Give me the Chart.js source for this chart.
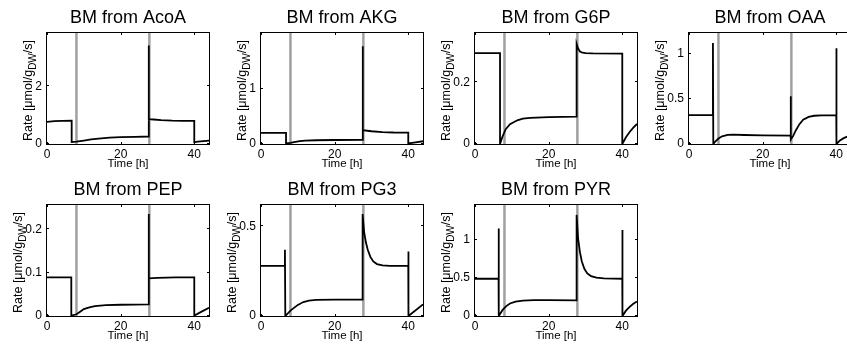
<!DOCTYPE html>
<html>
<head>
<meta charset="utf-8">
<script src="https://cdn.jsdelivr.net/npm/chart.js@4.4.1/dist/chart.umd.min.js"></script>
<style>
  html, body { margin: 0; padding: 0; background: #fff; overflow: hidden; }
  #fig { position: relative; width: 847px; height: 344px; overflow: hidden; }
  #fig canvas { position: absolute; }
</style>
</head>
<body>
<div id="fig"></div>
<script>
// shared time axis
const timeTicks = [0, 20, 40];
const switchTimes = [8, 27.8]; // grey marker lines

// BM from AcoA
const acoaT = [0, 2, 4, 6.7, 6.7, 8, 10, 12, 14, 17, 20, 24, 27.6, 27.6, 27.7, 29, 31, 34, 37, 40, 40, 41, 42.5, 44];
const acoaRate = [0.77, 0.79, 0.8, 0.81, 0.07, 0.08, 0.12, 0.16, 0.19, 0.22, 0.24, 0.25, 0.26, 3.42, 0.86, 0.85, 0.83, 0.81, 0.8, 0.8, 0.06, 0.08, 0.1, 0.12];
const acoaTicks = [0, 2];

// BM from AKG
const akgT = [0, 6.8, 6.8, 8, 9, 10.5, 12, 15, 20, 27.6, 27.6, 27.7, 30, 33, 36, 40, 40, 42, 44];
const akgRate = [0.2, 0.2, 0.01, 0.02, 0.035, 0.05, 0.06, 0.068, 0.072, 0.073, 1.76, 0.25, 0.23, 0.215, 0.207, 0.205, 0.01, 0.03, 0.05];
const akgTicks = [0, 1];

// BM from G6P
const g6pT = [0, 6.8, 6.8, 7.4, 8.3, 9.5, 11.5, 13, 15, 20, 27.6, 27.6, 28, 28.5, 29.2, 30, 32, 40, 40, 41, 42, 43, 44];
const g6pRate = [0.295, 0.295, 0, 0.022, 0.047, 0.064, 0.077, 0.082, 0.085, 0.087, 0.089, 0.325, 0.31, 0.3, 0.296, 0.295, 0.294, 0.293, 0, 0.022, 0.039, 0.053, 0.065];
const g6pTicks = [0, 0.2];

// BM from OAA
const oaaT = [0, 6.5, 6.5, 6.6, 7.2, 8, 9, 10.5, 12, 15, 20, 27.6, 27.6, 27.7, 28.3, 29, 30, 31, 32.5, 34, 36, 40, 40, 40.1, 41, 42, 43, 44];
const oaaRate = [0.32, 0.32, 1.12, 0, 0.03, 0.06, 0.085, 0.1, 0.104, 0.1, 0.095, 0.093, 0.53, 0.05, 0.09, 0.15, 0.22, 0.27, 0.3, 0.313, 0.318, 0.32, 1.06, 0, 0.04, 0.065, 0.082, 0.093];
const oaaTicks = [0, 0.5, 1];

// BM from PEP
const pepT = [0, 6.6, 6.6, 8, 9, 10, 11.5, 13, 16, 20, 27.6, 27.6, 27.7, 30, 35, 40, 40, 42, 44];
const pepRate = [0.089, 0.089, 0.001, 0.004, 0.01, 0.016, 0.02, 0.023, 0.025, 0.026, 0.027, 0.235, 0.087, 0.088, 0.089, 0.089, 0.001, 0.01, 0.019];
const pepTicks = [0, 0.1, 0.2];

// BM from PG3
const pg3T = [0, 6.5, 6.5, 6.6, 8, 10, 11.5, 13, 15, 20, 27.6, 27.6, 28, 28.5, 29, 29.7, 30.5, 31.5, 33, 35, 40, 40, 40.1, 44];
const pg3Rate = [0.28, 0.28, 0.37, 0, 0.03, 0.062, 0.078, 0.086, 0.09, 0.091, 0.092, 0.57, 0.47, 0.41, 0.37, 0.33, 0.305, 0.29, 0.283, 0.28, 0.28, 0.36, 0, 0.065];
const pg3Ticks = [0, 0.5];

// BM from PYR
const pyrT = [0, 6.4, 6.4, 6.5, 7.5, 8.5, 9.5, 11, 13, 16, 20, 27.6, 27.6, 28, 28.5, 29, 29.7, 30.5, 31.5, 33, 35, 40, 40, 40.1, 41, 42, 43, 44];
const pyrRate = [0.49, 0.49, 1.15, 0, 0.08, 0.13, 0.165, 0.19, 0.203, 0.208, 0.21, 0.205, 1.33, 1.02, 0.84, 0.72, 0.62, 0.56, 0.525, 0.505, 0.495, 0.49, 1.13, 0, 0.07, 0.12, 0.16, 0.19];
const pyrTicks = [0, 0.5, 1];

const FONT = "'Liberation Sans', Arial, Helvetica, sans-serif";
const TICK_PAD = 5;

const panels = [
  { name: 'AcoA', t: acoaT, v: acoaRate, ticks: acoaTicks, ymax: 3.85, col: 0, row: 0 },
  { name: 'AKG', t: akgT, v: akgRate, ticks: akgTicks, ymax: 2.0, col: 1, row: 0 },
  { name: 'G6P', t: g6pT, v: g6pRate, ticks: g6pTicks, ymax: 0.36, col: 2, row: 0 },
  { name: 'OAA', t: oaaT, v: oaaRate, ticks: oaaTicks, ymax: 1.23, col: 3, row: 0 },
  { name: 'PEP', t: pepT, v: pepRate, ticks: pepTicks, ymax: 0.256, col: 0, row: 1 },
  { name: 'PG3', t: pg3T, v: pg3Rate, ticks: pg3Ticks, ymax: 0.62, col: 1, row: 1 },
  { name: 'PYR', t: pyrT, v: pyrRate, ticks: pyrTicks, ymax: 1.46, col: 2, row: 1 },
];

// axes box, inward ticks and the y label (has a subscript)
const boxPlugin = {
  id: 'box',
  afterDraw(chart) {
    const { ctx, chartArea: a, scales } = chart;
    ctx.save();
    ctx.strokeStyle = '#000';
    ctx.lineWidth = 1;
    ctx.strokeRect(a.left - 0.5, a.top - 0.5, a.right - a.left + 1, a.bottom - a.top + 1);
    ctx.beginPath();
    scales.x.ticks.forEach(t => {
      const px = Math.round(scales.x.getPixelForValue(t.value)) + 0.5;
      ctx.moveTo(px, a.bottom); ctx.lineTo(px, a.bottom - 2);
      ctx.moveTo(px, a.top); ctx.lineTo(px, a.top + 2);
    });
    scales.y.ticks.forEach(t => {
      const py = Math.round(scales.y.getPixelForValue(t.value)) - 0.5;
      ctx.moveTo(a.left, py); ctx.lineTo(a.left + 2, py);
      ctx.moveTo(a.right, py); ctx.lineTo(a.right - 2, py);
    });
    ctx.stroke();

    // place the label just left of the widest tick label, like MATLAB does
    ctx.font = '12px ' + FONT;
    let maxW = 0;
    scales.y.ticks.forEach(t => { maxW = Math.max(maxW, ctx.measureText(String(t.label)).width); });

    const main = '12.5px ' + FONT, sub = '10px ' + FONT;
    ctx.translate(a.left - TICK_PAD - maxW - 3, (a.top + a.bottom) / 2 + 2);
    ctx.rotate(-Math.PI / 2);
    ctx.fillStyle = '#000';
    ctx.textBaseline = 'alphabetic';
    ctx.textAlign = 'left';
    ctx.font = main;
    const w1 = ctx.measureText('Rate [μmol/g').width;
    const w3 = ctx.measureText('/s]').width;
    ctx.font = sub;
    const w2 = ctx.measureText('DW').width;
    let x = -(w1 + w2 + w3) / 2;
    ctx.font = main; ctx.fillText('Rate [μmol/g', x, 0); x += w1;
    ctx.font = sub; ctx.fillText('DW', x, 3.5); x += w2;
    ctx.font = main; ctx.fillText('/s]', x, 0);
    ctx.restore();
  }
};

const fig = document.getElementById('fig');

panels.forEach(p => {
  const cv = document.createElement('canvas');
  cv.width = 214; cv.height = 172;
  cv.style.width = '214px'; cv.style.height = '172px';
  cv.style.left = (p.col * 214) + 'px';
  cv.style.top = (p.row * 172) + 'px';
  fig.appendChild(cv);

  const markers = switchTimes.map(s => ({
    data: [{ x: s, y: 0 }, { x: s, y: p.ymax }],
    borderColor: '#a0a0a0', borderWidth: 2.5, order: 2
  }));

  new Chart(cv, {
    type: 'scatter',
    data: {
      datasets: [
        {
          data: p.t.map((t, i) => ({ x: t, y: p.v[i] })),
          borderColor: '#000', borderWidth: 1.8, order: 1
        },
        ...markers
      ]
    },
    options: {
      responsive: false,
      animation: false,
      devicePixelRatio: 1,
      showLine: true,
      elements: { point: { radius: 0 }, line: { tension: 0 } },
      layout: { padding: { left: 0, right: 5, top: 0, bottom: 0 } },
      plugins: {
        legend: { display: false },
        tooltip: { enabled: false },
        title: {
          display: true, text: 'BM from ' + p.name, fullSize: false,
          color: '#000', font: { family: FONT, size: 18, weight: 'normal' },
          padding: { top: 7.5, bottom: 3.9 }
        }
      },
      scales: {
        x: {
          type: 'linear', min: 0, max: 44,
          afterBuildTicks: s => { s.ticks = timeTicks.map(v => ({ value: v })); },
          afterFit: s => { s.height = 28; },
          grid: { display: false, drawTicks: false },
          border: { display: false },
          ticks: { padding: 3, color: '#000', font: { family: FONT, size: 12 }, maxRotation: 0, autoSkip: false },
          title: { display: true, text: 'Time [h]', color: '#000', font: { family: FONT, size: 11.5 }, padding: { top: 0, bottom: 1.5 } }
        },
        y: {
          type: 'linear', min: 0, max: p.ymax,
          afterBuildTicks: s => { s.ticks = p.ticks.map(v => ({ value: v })); },
          afterFit: s => { s.width = 47; },
          grid: { display: false, drawTicks: false },
          border: { display: false },
          ticks: { padding: TICK_PAD, color: '#000', font: { family: FONT, size: 12 }, callback: v => String(v) }
        }
      }
    },
    plugins: [boxPlugin]
  });
});
</script>
</body>
</html>
